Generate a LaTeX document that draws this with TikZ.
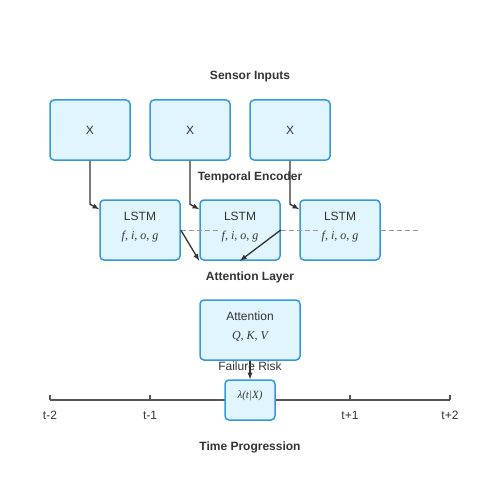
\documentclass[tikz,border=0pt]{standalone}
\usepackage{fontspec}
\setmainfont{Liberation Sans}
\newfontfamily\mathserif{Liberation Serif}
\usepackage{tikz}
\usetikzlibrary{arrows,positioning}

\definecolor{boxfill}{HTML}{E1F5FE}
\definecolor{boxline}{HTML}{3498DB}
\definecolor{ink}{HTML}{333333}
\definecolor{axis}{HTML}{555555}
\definecolor{dash}{HTML}{999999}

\tikzset{
  box/.style={draw=boxline, fill=boxfill, line width=1.5pt, rounded corners=4pt},
  txt/.style={text=ink, font=\fontsize{12}{14}\selectfont, inner sep=0pt},
  head/.style={text=ink, font=\fontsize{12}{14}\selectfont\bfseries, inner sep=0pt},
  mth/.style={text=ink, font=\fontsize{12}{14}\selectfont\mathserif\itshape, inner sep=0pt},
  arr/.style={draw=ink, line width=1.3pt, -latex},
  dashline/.style={draw=dash, line width=1pt, dash pattern=on 5pt off 3pt}
}

\begin{document}
\begin{tikzpicture}[x=1pt, y=-1pt]

\useasboundingbox (0,0) rectangle (500,500);

\node[head] (hsens) at (250,77) {Sensor Inputs};
\node[box, minimum width=80pt, minimum height=60pt] (x1) at (90,130) {};
\node[box, minimum width=80pt, minimum height=60pt] (x2) at (190,130) {};
\node[box, minimum width=80pt, minimum height=60pt] (x3) at (290,130) {};
\node[txt] (tx1) at (90,130) {X};
\node[txt] (tx2) at (190,130) {X};
\node[txt] (tx3) at (290,130) {X};

\node[head] (henc) at (250,177) {Temporal Encoder};
\node[box, minimum width=80pt, minimum height=60pt] (l1) at (140,230) {};
\node[box, minimum width=80pt, minimum height=60pt] (l2) at (240,230) {};
\node[box, minimum width=80pt, minimum height=60pt] (l3) at (340,230) {};
\node[txt] (tl1) at (140,216) {LSTM};
\node[txt] (tl2) at (240,216) {LSTM};
\node[txt] (tl3) at (340,216) {LSTM};
\node[mth] (gl1) at (140,237) {f, i, o, g};
\node[mth] (gl2) at (240,237) {f, i, o, g};
\node[mth] (gl3) at (340,237) {f, i, o, g};

\draw[arr] (x1.south) -- ([yshift=-5pt]x1.south |- l1.north) -- ([yshift=-10pt]l1.north west);
\draw[arr] (x2.south) -- ([yshift=-5pt]x2.south |- l2.north) -- ([yshift=-10pt]l2.north west);
\draw[arr] (x3.south) -- ([yshift=-5pt]x3.south |- l3.north) -- ([yshift=-10pt]l3.north west);

\draw[dashline] (l1.east) -- ++(40,0);
\draw[dashline] (l2.east) -- ++(40,0);
\draw[dashline] (l3.east) -- ++(40,0);

\draw[arr] (l1.east) -- (l2.south west);
\draw[arr] (l2.east) -- (l2.south);

\node[head] (hatt) at (250,277) {Attention Layer};
\node[box, minimum width=100pt, minimum height=60pt] (att) at (250,330) {};
\node[txt] (tatt) at (250,316) {Attention};
\node[mth] (qkv) at (250,336) {Q, K, V};

% time axis
\draw[axis, line width=1.5pt] (50,400) -- (450,400);
\foreach \t in {50,150,250,350,450}
  \draw[axis, line width=1.5pt] (\t,395) -- (\t,400);
\node[txt] (t1) at (50,415) {t-2};
\node[txt] (t2) at (150,415) {t-1};
\node[txt] (t4) at (350,415) {t+1};
\node[txt] (t5) at (450,415) {t+2};

\node[txt] (hrisk) at (250,366) {Failure Risk};
\node[box, minimum width=50pt, minimum height=40pt] (risk) at (250,400) {};
\node[mth, font=\fontsize{11}{13}\selectfont\mathserif\itshape] (lam) at (250,396) {λ(t|X)};
\draw[arr] (att.south) -- (risk.north);

\node[head] (htime) at (250,447) {Time Progression};

\end{tikzpicture}
\end{document}
